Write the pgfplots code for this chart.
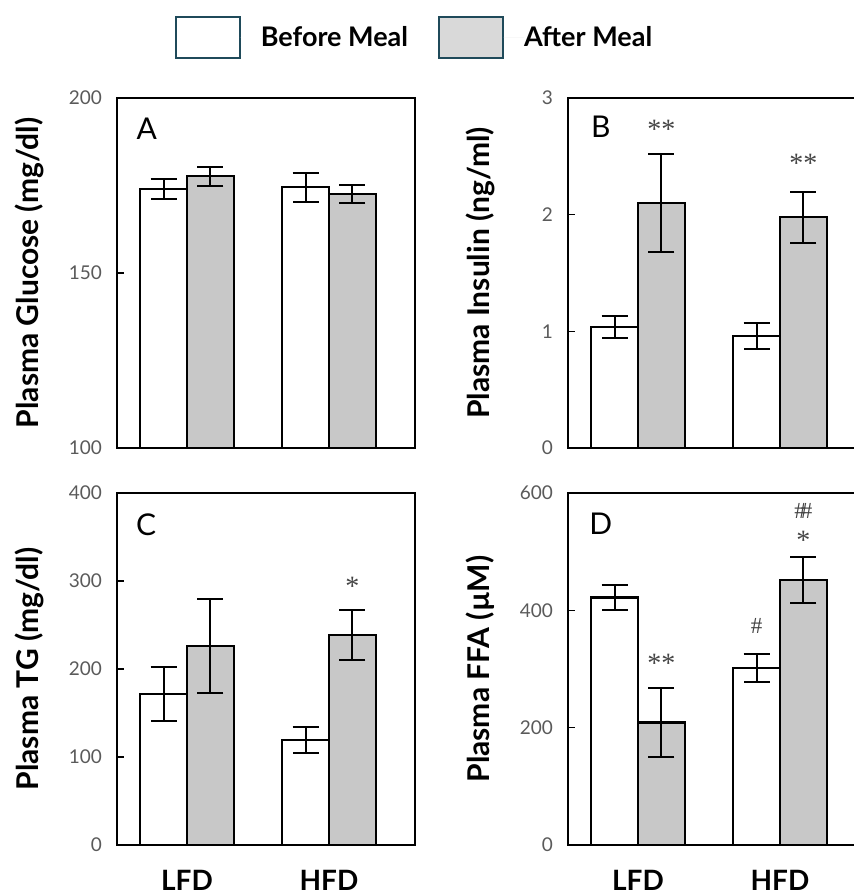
\documentclass[border=0pt]{standalone}
\usepackage{fontspec}
\setmainfont{Lato}
\newfontfamily\annfont{Liberation Serif}
\usepackage{pgfplots}
\pgfplotsset{compat=1.18}
\definecolor{aftergray}{HTML}{C8C8C8}
\definecolor{legedge}{HTML}{1F4A5A}
\definecolor{leggray}{HTML}{D9D9D9}
\definecolor{tickgray}{HTML}{5A5A5A}
\definecolor{anngray}{HTML}{444444}

\tikzset{
 lett/.style={font=\fontsize{15}{16}\selectfont, anchor=center},
 ann/.style={font=\annfont\fontsize{14}{14}\selectfont, text=anngray, anchor=center, inner sep=0pt},
 star/.style={ann, yshift=-2pt},
 hash/.style={ann, font=\annfont\fontsize{11.5}{12}\selectfont},
}
\pgfplotsset{
 panel/.style={
  width=149pt, scale only axis,
  xmin=-0.493, xmax=1.606,
  ybar=0pt, bar width=0.33,
  axis line style={line width=0.9pt},
  ytick pos=left, tick align=inside, major tick length=3.5pt,
  ytick style={line width=0.8pt, black},
  xtick={0,1}, xtick style={draw=none},
  yticklabel style={font=\fontsize{9.5}{10}\selectfont, text=tickgray, xshift=-4pt},
  /pgf/number format/assume math mode=true,
  ylabel style={font=\bfseries\fontsize{15}{16}\selectfont, at={(axis description cs:-0.293,0.5)}, anchor=center},
  clip=false,
 },
 % right-hand panels run past the page edge, as in the reference
 rpanel/.style={panel, width=170.3pt, xmax=1.906,
  ylabel style={at={(axis description cs:-0.2564,0.5)}}},
 eb/.style={line width=1.1pt, draw=black,
  error bars/y dir=both, error bars/y explicit,
  error bars/error mark options={rotate=90, mark size=6.5pt, line width=1pt, black},
  error bars/error bar style={line width=1pt, black}},
}

\begin{document}
\begin{tikzpicture}[x=1pt,y=1pt]
% Panel A
\begin{axis}[panel, at={(58.5pt,224pt)}, anchor=south west, height=175pt,
  ymin=100, ymax=200, ytick={100,150,200}, xticklabels={},
  ylabel={Plasma Glucose (mg/dl)},
  legend columns=2,
  legend style={draw=none, fill=none, inner sep=0pt, at={(axis description cs:0.995,1.172)}, anchor=center,
    font=\bfseries\fontsize{13.5}{14}\selectfont,
    /tikz/every even column/.append style={column sep=15pt},
    nodes={inner sep=0pt}},
  legend cell align=left]
\addplot[eb, fill=white, legend image code/.code={\draw[line width=1pt, draw=legedge, fill=white] (0pt,-10.25pt) rectangle (32pt,10.25pt); \path[draw=none] (32pt,0) -- (42.5pt,0);}]
  coordinates {(0,173.9) +- (0,2.9) (1,174.5) +- (0,4.2)};
\addlegendentry{Before Meal}
\addplot[eb, fill=aftergray, legend image code/.code={\draw[line width=1pt, draw=legedge, fill=leggray] (0pt,-10.25pt) rectangle (32pt,10.25pt); \path[draw=none] (32pt,0) -- (42.5pt,0);}]
  coordinates {(0,177.6) +- (0,2.7) (1,172.6) +- (0,2.5)};
\addlegendentry{After Meal}
\node[lett] at (axis description cs:0.10,0.911) {A};
\end{axis}
% Panel B
\begin{axis}[rpanel, at={(284pt,224pt)}, anchor=south west, height=175pt,
  ymin=0, ymax=3, ytick={0,1,2,3}, xticklabels={},
  ylabel={Plasma Insulin (ng/ml)}]
\addplot[eb, fill=white] coordinates {(0,1.034) +- (0,0.094) (1,0.96) +- (0,0.11)};
\addplot[eb, fill=aftergray] coordinates {(0,2.10) +- (0,0.42) (1,1.977) +- (0,0.22)};
\node[lett] at (axis description cs:0.0962,0.917) {B};
\node[star] at (axis cs:0.165,2.77) {**};
\node[star] at (axis cs:1.165,2.47) {**};
\end{axis}
% Panel C
\begin{axis}[panel, at={(58.5pt,25.5pt)}, anchor=south west, height=176pt,
  ymin=0, ymax=400, ytick={0,100,200,300,400}, xticklabels={LFD,HFD},
  xticklabel style={font=\bfseries\fontsize{14}{15}\selectfont, yshift=-9pt},
  ylabel={Plasma TG (mg/dl)}]
\addplot[eb, fill=white] coordinates {(0,171.4) +- (0,31) (1,119.4) +- (0,15)};
\addplot[eb, fill=aftergray] coordinates {(0,226.4) +- (0,53.5) (1,238.9) +- (0,28.6)};
\node[lett] at (axis description cs:0.098,0.909) {C};
\node[star] at (axis cs:1.165,299) {*};
\end{axis}
% Panel D
\begin{axis}[rpanel, at={(284pt,25.5pt)}, anchor=south west, height=176pt,
  ymin=0, ymax=600, ytick={0,200,400,600}, xticklabels={LFD,HFD},
  xticklabel style={font=\bfseries\fontsize{14}{15}\selectfont, yshift=-9pt},
  ylabel={Plasma FFA (µM)}]
\addplot[eb, fill=white] coordinates {(0,422) +- (0,22) (1,301.5) +- (0,24)};
\addplot[eb, fill=aftergray] coordinates {(0,208.8) +- (0,59) (1,451.1) +- (0,39)};
\node[lett] at (axis description cs:0.0962,0.912) {D};
\node[star] at (axis cs:0.165,315.7) {**};
\node[hash] at (axis cs:0.835,372.6) {\#};
\node[star] at (axis cs:1.165,526) {*};
\node[hash] at (axis cs:1.165,569) {\#\kern-2.5pt\#};
\end{axis}
\pgfresetboundingbox
\useasboundingbox (0,0) rectangle (427pt,448pt);
\end{tikzpicture}
\end{document}
